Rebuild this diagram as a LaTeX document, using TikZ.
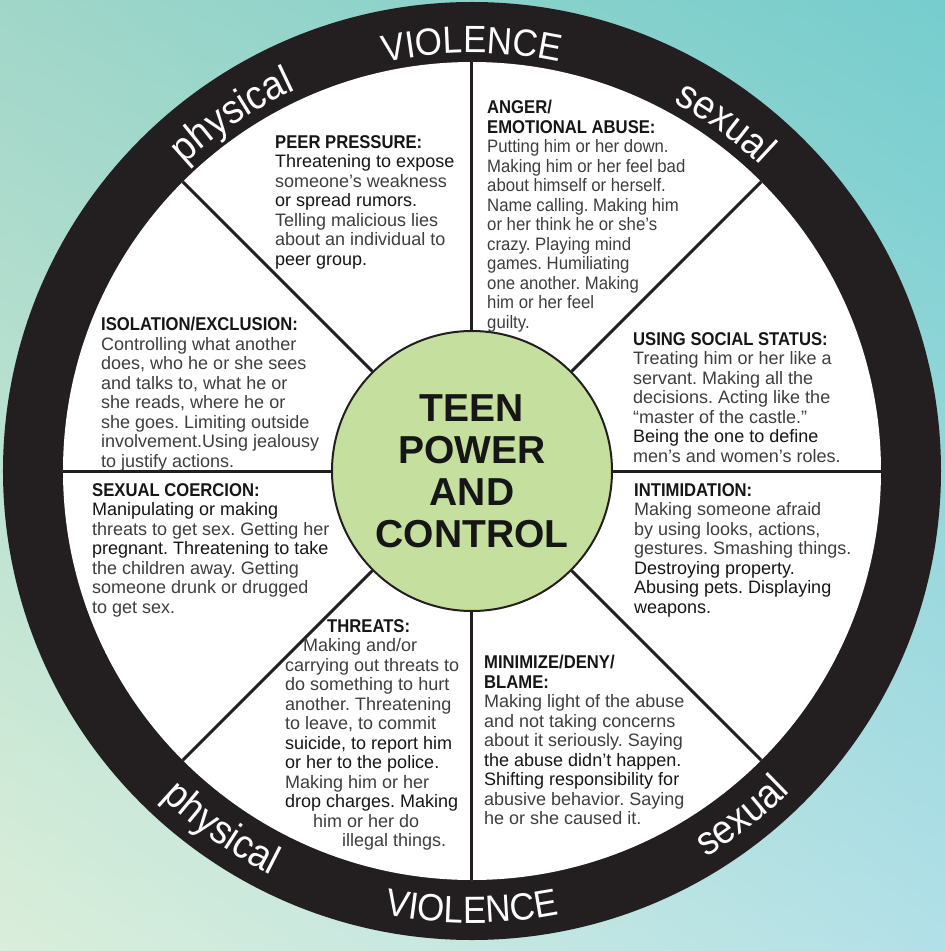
\documentclass[tikz,border=0pt]{standalone}
\usepackage{fontspec}
\setmainfont{Liberation Sans}
\newfontfamily\condfont[FakeStretch=0.93]{Liberation Sans}
\newfontfamily\headfont[FakeStretch=0.9]{Liberation Sans}
\newfontfamily\ringfontfam[FakeStretch=0.92]{Liberation Sans}
\usetikzlibrary{decorations.text,shadings}
\frenchspacing
\definecolor{ringblack}{RGB}{35,31,32}
\definecolor{hubgreen}{RGB}{197,224,158}
\definecolor{bodygray}{RGB}{62,62,62}
\definecolor{darktext}{RGB}{22,22,22}
\definecolor{bgUL}{RGB}{160,214,200}
\definecolor{bgUR}{RGB}{118,205,205}
\definecolor{bgLL}{RGB}{218,238,218}
\definecolor{bgLR}{RGB}{178,224,232}
\newcommand{\hd}[1]{{\headfont\bfseries\fontsize{18.5}{19.5}\selectfont\color{darktext}#1}}
\newcommand{\dk}[1]{{\color{darktext}#1}}
\newcommand{\ringfmt}{\ringfontfam\fontsize{38}{40}\selectfont\color{white}}
\newcommand{\ringfmtb}{\ringfontfam\fontsize{40.5}{42}\selectfont\color{white}}
\tikzset{
  blocktext/.style={anchor=north west, inner sep=0pt, align=left, text=bodygray,
    font=\frenchspacing\fontsize{18}{19.5}\selectfont},
  condtext/.style={blocktext, font=\frenchspacing\condfont\fontsize{18}{19.5}\selectfont},
  spoke/.style={draw=ringblack, line width=3pt},
  hubstyle/.style={circle, minimum size=280pt, inner sep=0pt, fill=hubgreen,
    draw=ringblack, line width=2pt, align=center, text=darktext,
    font=\bfseries\fontsize{39}{42}\selectfont},
  ringword/.style={decorate, decoration={text along path, text align=center, text={#1}}}
}
\begin{document}
\begin{tikzpicture}[x=1pt,y=1pt]
\useasboundingbox (-472,-480) rectangle (473,471);
% background
\shade[upper left=bgUL, upper right=bgUR, lower left=bgLL, lower right=bgLR]
  (-472,-480) rectangle (473,471);
% ring
\fill[ringblack] (0,0) circle[radius=469];
\fill[white] (0,0) circle[radius=409];
% rim points
\foreach \a in {0,45,90,135,180,225,270,315} {
  \coordinate (rim\a) at (\a:409);
}
% hub
\node[hubstyle] (hub) at (0,0) {TEEN\\POWER\\AND\\CONTROL};
% spokes
\foreach \a in {0,45,90,135,180,225,270,315} {
  \draw[spoke] (hub.\a) -- (rim\a);
}
% ring words
\path[ringword={|\ringfmt|VIOLENCE}] (112:418) arc[start angle=112, end angle=68, radius=418];
\path[ringword={|\ringfmt|VIOLENCE}] (248:452) arc[start angle=248, end angle=292, radius=452];
\path[ringword={|\ringfmtb|physical}] (146:420) arc[start angle=146, end angle=102, radius=420];
\path[ringword={|\ringfmtb|sexual}] (76:420) arc[start angle=76, end angle=32, radius=420];
\path[ringword={|\ringfmtb|physical}] (213:451) arc[start angle=213, end angle=257, radius=451];
\path[ringword={|\ringfmtb|sexual}] (286:452) arc[start angle=286, end angle=330, radius=452];
% text blocks
\node[blocktext] (peer) at (-197,336) {\hd{PEER PRESSURE:}\\
\dk{Threatening to expose}\\
someone’s weakness\\
\dk{or spread rumors.}\\
Telling malicious lies\\
about an individual to\\
\dk{peer group.}};
\node[condtext] (anger) at (15,371) {\hd{ANGER/}\\
\hd{EMOTIONAL ABUSE:}\\
Putting him or her down.\\
Making him or her feel bad\\
about himself or herself.\\
Name calling. Making him\\
or her think he or she’s\\
crazy. Playing mind\\
games. Humiliating\\
one another. Making\\
him or her feel\\
guilty.};
\node[blocktext] (status) at (161,139) {\hd{USING SOCIAL STATUS:}\\
Treating him or her like a\\
servant. Making all the\\
decisions. Acting like the\\
“master of the castle.”\\
\dk{Being the one to define}\\
men’s and women’s roles.};
\node[blocktext] (isolation) at (-371,154) {\hd{ISOLATION/EXCLUSION:}\\
Controlling what another\\
does, who he or she sees\\
and talks to, what he or\\
she reads, where he or\\
she goes. Limiting outside\\
involvement.Using jealousy\\
to justify actions.};
\node[blocktext] (coercion) at (-380,-12) {\hd{SEXUAL COERCION:}\\
\dk{Manipulating or making}\\
threats to get sex. Getting her\\
\dk{pregnant. Threatening to take}\\
the children away. Getting\\
someone drunk or drugged\\
to get sex.};
\node[blocktext] (intim) at (162,-12) {\hd{INTIMIDATION:}\\
Making someone afraid\\
by using looks, actions,\\
gestures. Smashing things.\\
\dk{Destroying property.}\\
\dk{Abusing pets. Displaying}\\
\dk{weapons.}};
\node[blocktext] (threats) at (-187,-148) {\hspace*{42pt}\hd{THREATS:}\\
\hspace*{18pt}Making and/or\\
carrying out threats to\\
do something to hurt\\
another. Threatening\\
to leave, to commit\\
\dk{suicide, to report him}\\
\dk{or her to the police.}\\
Making him or her\\
\dk{drop charges. Making}\\
\hspace*{28pt}him or her do\\
\hspace*{57pt}illegal things.};
\node[blocktext] (minimize) at (12,-184) {\hd{MINIMIZE/DENY/}\\
\hd{BLAME:}\\
Making light of the abuse\\
and not taking concerns\\
about it seriously. Saying\\
\dk{the abuse didn’t happen.}\\
\dk{Shifting responsibility for}\\
abusive behavior. Saying\\
he or she caused it.};
\end{tikzpicture}
\end{document}
